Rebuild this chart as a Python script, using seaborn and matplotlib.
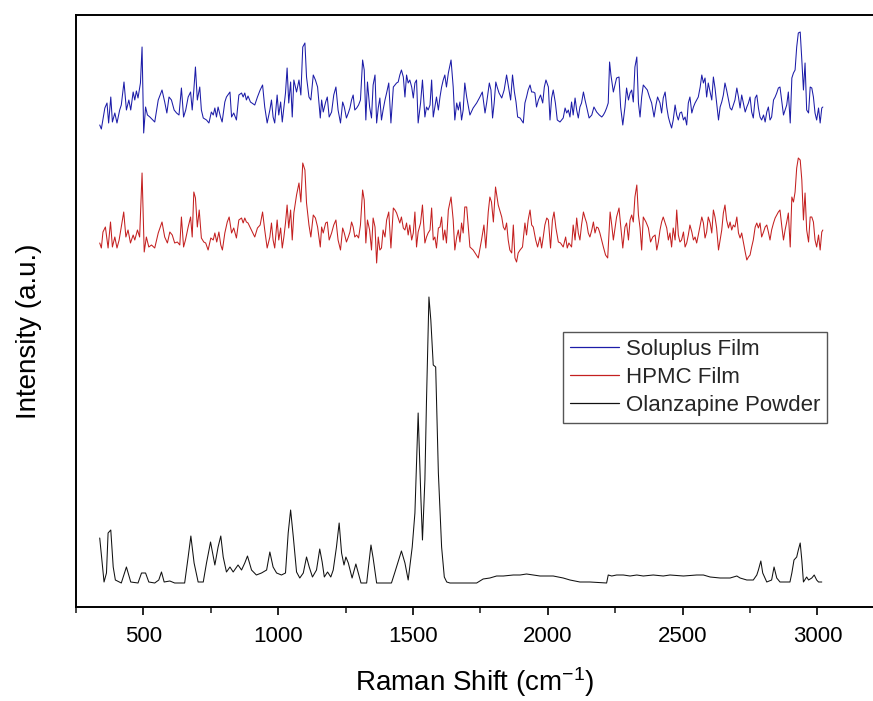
import matplotlib
matplotlib.use("Agg")
import matplotlib.pyplot as plt
import seaborn as sns
import pandas as pd
from matplotlib.ticker import MultipleLocator, NullLocator
from matplotlib.lines import Line2D

# ---------------- data ----------------
soluplus_x = [338, 344, 357, 365, 371, 379, 385, 394, 402, 412, 418, 428, 437, 446, 453, 462, 468, 474, 480, 489,
              495, 501, 508, 515, 524, 542, 555, 569, 579, 587, 595, 604, 614, 623, 632, 641, 649, 657, 666, 675,
              681, 687, 693, 700, 709, 715, 722, 734, 743, 752, 759, 765, 771, 777, 786, 792, 802, 808, 821, 827,
              835, 845, 854, 864, 870, 876, 882, 888, 897, 913, 923, 933, 942, 950, 959, 969, 975, 981, 987, 996,
              1002, 1009, 1015, 1021, 1027, 1033, 1039, 1046, 1052, 1058, 1068, 1077, 1084, 1091, 1099, 1105, 1114,
              1121, 1130, 1138, 1146, 1156, 1161, 1167, 1176, 1182, 1189, 1198, 1206, 1214, 1222, 1231, 1239, 1245,
              1253, 1260, 1266, 1272, 1278, 1284, 1291, 1298, 1305, 1313, 1319, 1325, 1331, 1339, 1346, 1352, 1359,
              1365, 1371, 1377, 1383, 1389, 1396, 1402, 1410, 1418, 1427, 1433, 1439, 1445, 1451, 1457, 1464, 1470,
              1476, 1482, 1488, 1495, 1501, 1507, 1513, 1519, 1528, 1535, 1544, 1550, 1556, 1563, 1569, 1575, 1581,
              1587, 1594, 1600, 1606, 1612, 1618, 1624, 1631, 1641, 1649, 1655, 1662, 1668, 1674, 1680, 1686, 1692,
              1699, 1711,
              1723, 1736, 1748, 1757, 1767, 1773, 1783, 1789, 1795, 1801, 1807, 1812, 1819, 1829, 1838, 1847, 1853,
              1862, 1869, 1876, 1882, 1888, 1897, 1909, 1915, 1921, 1927, 1934, 1940, 1946, 1952, 1958, 1965, 1973,
              1981, 1987, 1993, 2002, 2008, 2014, 2020, 2028, 2035, 2045, 2057, 2064, 2070, 2076, 2082, 2088, 2094,
              2101, 2107, 2113, 2119, 2125, 2132, 2138, 2144, 2153, 2163, 2171, 2181, 2191, 2200, 2206, 2212, 2218,
              2224, 2229, 2234, 2243, 2249, 2255, 2264, 2270, 2278, 2286, 2292, 2299, 2305, 2311, 2317, 2323, 2330,
              2336, 2342, 2348, 2354, 2360, 2369, 2377, 2385, 2394, 2401, 2407, 2416, 2422, 2428, 2435, 2441, 2447,
              2453, 2459, 2465, 2472, 2478, 2484, 2490, 2496, 2503, 2509, 2515, 2521, 2527, 2534, 2540, 2546, 2552,
              2558, 2565, 2571, 2577, 2583, 2589, 2595, 2602, 2608, 2614, 2620, 2626, 2633, 2639, 2645, 2651, 2657,
              2663, 2670, 2676, 2682, 2688, 2694, 2701, 2707, 2713, 2719, 2725, 2732, 2738, 2744, 2750, 2756, 2762,
              2769, 2775, 2781, 2787, 2793, 2800, 2806, 2812, 2818, 2824, 2830, 2837, 2843, 2849, 2855, 2861, 2868,
              2874, 2880, 2886, 2892, 2899, 2905, 2911, 2917, 2923, 2929, 2936, 2942, 2948, 2954, 2960, 2967, 2973,
              2979, 2985, 2991, 2997, 3004, 3010, 3016, 3020]
soluplus_y = [482, 478, 499, 504, 484, 510, 485, 494, 484, 497, 502, 525, 497, 507, 497, 515, 507, 516, 509, 524,
              560, 474, 500, 492, 490, 485, 507, 517, 505, 494, 510, 507, 497, 494, 492, 519, 490, 497, 510, 515,
              497, 517, 540, 507, 520, 497, 489, 487, 484, 495, 492, 499, 490, 500, 490, 485, 505, 510, 515, 490,
              494, 487, 512, 514, 510, 514, 507, 511, 505, 502, 510, 517, 522, 500, 484, 497, 507, 490, 484, 512,
              492, 505, 485, 500, 514, 539, 504, 525, 490, 527, 515, 527, 512, 560, 564, 530, 510,
              507, 532, 527, 520, 489, 507, 495, 505, 510, 490, 495, 512, 520, 497, 484, 505, 500,
              489, 494, 499, 507, 512, 497, 499, 502, 507, 547, 537, 487, 525, 500, 489, 522, 532,
              484, 499, 509, 487, 497, 507, 514, 524, 484, 520, 522, 524, 525, 532, 537, 530, 510,
              532, 524, 527, 520, 509, 524, 527, 484, 504, 527, 490, 500, 497, 502, 527, 490, 500,
              510, 497, 510, 520, 527, 532, 520, 534, 547, 520, 487, 504, 497, 505, 487, 497, 524,
              510, 492,
              499, 504, 510, 515, 494, 504, 524, 517, 489, 504, 525, 520, 514, 509, 517, 532, 522,
              507, 532, 515, 505, 490, 489, 484, 504, 510, 517, 522, 515, 515, 514, 500, 507, 512,
              504, 520, 527, 520, 487, 509, 517, 504, 487, 485, 489, 499, 494, 497, 490, 505, 492,
              509, 497, 489, 500, 504, 515, 507, 500, 489, 492, 500, 495, 492, 490, 492, 495, 499,
              504, 545, 532, 515, 522, 529, 530, 500, 482, 500, 519, 507, 514, 517, 505, 540, 550,
              504, 490, 510, 522, 520, 517, 510, 504, 490, 502, 510, 504, 494, 509, 515, 500, 490,
              484, 479, 487, 502, 492, 487, 494, 495, 487, 490, 482, 504, 510, 494, 500, 504, 507,
              510, 520, 532, 524, 529, 510, 524, 515, 507, 530, 519, 504, 487, 500, 505, 512, 524,
              517, 507, 499, 497, 502, 507, 519, 510, 499, 512, 504, 495, 500, 504, 510, 495, 489,
              509, 512, 499, 490, 487, 492, 485, 495, 500, 487, 490, 507, 510, 514, 519, 520, 505,
              492, 497, 502, 515, 484, 529, 534, 537, 560, 574, 575, 547, 517, 544, 497, 494, 520,
              519, 510, 494, 487, 499, 484, 499, 500]

hpmc_x = [338, 344, 350, 359, 369, 378, 385, 394, 402, 410, 418, 427, 435, 443, 452, 462, 468, 478, 486, 495,
          503, 511, 520, 530, 542, 555, 569, 579, 589, 598, 607, 616, 626, 635, 641, 649, 656, 666, 675, 681,
          687, 693, 700, 707, 715, 724, 731, 740, 750, 759, 765, 772, 780, 787, 793, 802, 811, 818, 827, 835,
          845, 854, 864, 870, 876, 882, 888, 897, 913, 923, 933, 942, 950, 959, 969, 975, 981, 987, 996, 1002,
          1009, 1015, 1021, 1027, 1033, 1039, 1046, 1052, 1058, 1068, 1077, 1084, 1091, 1099, 1105, 1114, 1121,
          1130, 1138, 1146, 1156, 1161, 1167, 1176, 1182, 1189, 1198, 1206, 1214, 1222, 1231, 1239, 1245, 1253,
          1260, 1266, 1272, 1278, 1284, 1291, 1298, 1305, 1313, 1319, 1325, 1331, 1339, 1346, 1352, 1359, 1365,
          1371, 1377, 1383, 1389, 1396, 1402, 1410, 1418, 1427, 1433, 1439, 1445, 1451, 1457, 1464, 1470, 1476,
          1482, 1488, 1495, 1501, 1507, 1513, 1519, 1528, 1535, 1544, 1550, 1556, 1563, 1569, 1575, 1581, 1587,
          1594, 1600, 1606, 1612, 1618, 1624, 1631, 1641, 1649, 1655, 1662, 1668, 1674, 1680, 1686, 1692, 1699,
          1711,
          1723, 1742, 1754, 1763, 1770, 1779, 1785, 1791, 1798, 1806, 1816, 1829, 1835, 1841, 1847, 1853, 1859,
          1866, 1872, 1878, 1884, 1890, 1897, 1906, 1915, 1921, 1927, 1934, 1940, 1946, 1955, 1962, 1971, 1977,
          1983, 1989, 1996, 2002, 2010, 2017, 2023, 2030, 2039, 2047, 2057, 2066, 2072, 2078, 2088, 2094, 2101,
          2107, 2113, 2119, 2125, 2132, 2138, 2144, 2150, 2156, 2163, 2169, 2175, 2181, 2187, 2193, 2206, 2214,
          2222, 2231, 2237, 2243, 2255, 2264, 2270, 2278, 2286, 2292, 2299, 2305, 2311, 2317, 2323, 2330, 2336,
          2342, 2348, 2354, 2364, 2373, 2381, 2389, 2398, 2404, 2410, 2416, 2422, 2428, 2435, 2441, 2447, 2453,
          2459, 2465, 2472, 2478, 2484, 2490, 2496, 2503, 2509, 2515, 2521, 2527, 2534, 2540, 2546, 2552, 2558,
          2565, 2571, 2577, 2583, 2589, 2595, 2602, 2608, 2614, 2620, 2626, 2633, 2639, 2645, 2651, 2657, 2663,
          2670, 2676, 2682, 2688, 2694, 2701, 2707, 2713, 2719, 2725, 2732, 2738, 2744, 2750, 2756, 2762, 2769,
          2775, 2781, 2787, 2793, 2800, 2806, 2812, 2818, 2824, 2830, 2837, 2843, 2849, 2855, 2861, 2868, 2874,
          2880, 2886, 2892, 2899, 2905, 2911, 2917, 2923, 2929, 2936, 2942, 2948, 2954, 2960, 2967, 2973, 2979,
          2985, 2991, 2997, 3004, 3010, 3016, 3020]
hpmc_y = [364, 359, 375, 380, 359, 385, 360, 370, 359, 367, 380, 395, 370, 377, 364, 372, 367, 377, 370, 434,
          355, 370, 360, 362, 359, 374, 385, 370, 364, 375, 372, 364, 365, 362, 390, 360, 367, 380, 390, 370,
          415, 409, 380, 397, 369, 365, 364, 357, 369, 367, 374, 365, 375, 362, 357, 374, 385, 390, 374, 379,
          369, 387, 389, 384, 389, 385, 384, 379, 370, 379, 382, 395, 377, 359, 370, 384, 367, 359, 387, 367,
          379, 359, 370, 384, 402, 379, 397, 367, 394, 412, 424, 405, 444, 437, 404, 382, 370,
          392, 389, 380, 360, 380, 374, 384, 385, 367, 374, 382, 387, 367, 357, 379, 374, 365,
          370, 375, 385, 380, 370, 372, 369, 382, 417, 407, 364, 387, 377, 357, 389, 380, 344,
          370, 357, 359, 377, 370, 387, 395, 359, 399, 397, 394, 389, 384, 390, 379, 377, 384,
          372, 382, 367, 374, 395, 360, 375, 384, 402, 364, 370, 374, 377, 399, 367, 370, 359,
          379, 380, 390, 367, 377, 364, 397, 410, 387, 357, 370, 377, 365, 384, 374, 400, 400,
          360,
          357, 349, 367, 382, 359, 395, 410, 405, 385, 420, 402, 390, 380, 377, 384, 367, 357,
          354, 382, 349, 345, 354, 357, 360, 384, 372, 387, 397, 382, 380, 367, 360, 370, 359,
          370, 382, 389, 387, 359, 387, 395, 379, 365, 364, 360, 370, 359, 364, 360, 382, 367,
          389, 374, 367, 382, 395, 389, 384, 374, 370, 377, 385, 374, 380, 379, 374, 360, 352,
          349, 395, 382, 367, 390, 399, 382, 359, 380, 384, 367, 387, 392, 385, 410, 422, 392,
          379, 357, 390, 385, 379, 365, 370, 372, 357, 365, 377, 385, 390, 384, 379, 367, 374,
          360, 379, 367, 397, 372, 365, 367, 375, 360, 364, 372, 382, 375, 367, 370, 364, 372,
          382, 390, 384, 369, 375, 390, 384, 374, 397, 390, 379, 357, 367, 377, 394, 402, 387,
          379, 385, 377, 382, 380, 390, 374, 369, 374, 365, 355, 347, 350, 352, 360, 367, 380,
          384, 379, 384, 370, 375, 380, 382, 375, 367, 377, 384, 389, 392, 395, 397, 380, 367,
          377, 385, 394, 360, 410, 405, 415, 439, 449, 447, 427, 387, 414, 377, 365, 390, 390,
          385, 367, 360, 372, 357, 375, 377]

olanzapine_x = [338, 354, 363, 369, 379, 388, 396, 418, 437, 453, 480, 493, 508, 520, 542, 557, 567, 577, 598, 616,
                653, 666, 676, 688, 703, 722, 734, 749, 765, 777, 787, 796, 808, 821, 833, 851, 864, 876, 886, 901,
                919, 938, 957, 969, 981, 994, 1012, 1027, 1037, 1046, 1056, 1068, 1080, 1093, 1105, 1115, 1127, 1142,
                1154, 1163, 1171, 1183, 1195, 1204, 1216, 1226, 1235, 1244, 1251, 1260, 1274, 1288, 1297, 1307, 1328,
                1344, 1352, 1365, 1420, 1433, 1457, 1470, 1482, 1497, 1507, 1519, 1529, 1535, 1544, 1550, 1559, 1566,
                1575, 1584, 1594, 1606, 1616, 1625, 1637, 1668, 1711, 1736, 1760, 1785, 1810, 1835, 1872, 1897, 1921,
                1946, 1971, 2020, 2057, 2082, 2119, 2156, 2218, 2224, 2237, 2255, 2280, 2305, 2330, 2354, 2391, 2428,
                2453, 2503, 2552, 2577, 2602, 2639, 2676, 2701, 2713, 2738, 2762, 2775, 2781, 2790, 2797, 2812, 2830,
                2839, 2849, 2861, 2898, 2905, 2913, 2923, 2929, 2936, 2942, 2948, 2960, 2967, 2979, 2988, 2997, 3004,
                3016]
olanzapine_y = [69, 25, 34, 74, 77, 40, 27, 24, 40, 25, 24, 34, 34, 25, 24, 27, 35, 25, 26, 24,
                24, 50, 71, 44, 25, 25, 44, 65, 42, 60, 71, 50, 35, 40, 35, 42, 37, 44, 51, 37,
                32, 34, 37, 55, 40, 34, 32, 34, 74, 97, 70, 35, 29, 34, 50, 40, 30, 37,
                58, 45, 30, 35, 30, 37, 60, 84, 54, 42, 50, 44, 29, 43, 34, 24, 24,
                62, 49, 24, 24, 35, 56, 44, 27, 60, 94, 194, 110, 67, 127, 207, 310, 287,
                242, 240, 134, 60, 30, 25, 24, 24, 24, 24, 28, 29, 31, 31, 32, 32, 33,
                32, 31, 31, 29, 27, 25, 25, 24, 32, 31, 32, 32, 31, 32, 31, 32, 31,
                32, 31, 32, 32, 30, 29, 29, 31, 29, 27, 27, 32, 37, 46, 34, 25, 27,
                40, 29, 25, 25, 34, 47, 50, 57, 64, 47, 25, 30, 27, 29, 32, 27, 25,
                25]

series_names = ["Soluplus Film", "HPMC Film", "Olanzapine Powder"]
series_colors = ["#1c1ca8", "#c42020", "#111111"]
x_ticks = [500, 1000, 1500, 2000, 2500, 3000]

frames = []
for name, xs, ys in [(series_names[0], soluplus_x, soluplus_y),
                     (series_names[1], hpmc_x, hpmc_y),
                     (series_names[2], olanzapine_x, olanzapine_y)]:
    frames.append(pd.DataFrame({"shift": xs, "intensity": ys, "sample": name}))
df = pd.concat(frames, ignore_index=True)

# ---------------- figure ----------------
sns.set_theme(style="white")
plt.rcParams["font.family"] = ["Liberation Sans", "DejaVu Sans"]
plt.rcParams["mathtext.fontset"] = "custom"
plt.rcParams["mathtext.rm"] = "Liberation Sans"
plt.rcParams["mathtext.it"] = "Liberation Sans:italic"
plt.rcParams["mathtext.default"] = "regular"

fig = plt.figure(figsize=(8.73, 7.01), dpi=100)
ax = fig.add_axes([76 / 873, 1 - 607 / 701, 1 - 76 / 873, (607 - 15) / 701])

sns.lineplot(data=df, x="shift", y="intensity", hue="sample", hue_order=series_names,
             palette=dict(zip(series_names, series_colors)), estimator=None, sort=False,
             linewidth=0.75, ax=ax, legend=False)

ax.set_xlim(250, 3206)
ax.set_ylim(0, 592)
ax.set_xticks(x_ticks)
ax.set_xticklabels([str(t) for t in x_ticks])
ax.xaxis.set_minor_locator(MultipleLocator(250))
ax.yaxis.set_major_locator(NullLocator())
ax.tick_params(axis="x", which="major", direction="out", length=6, width=1.2, pad=8,
               labelsize=16, colors="black", bottom=True)
ax.tick_params(axis="x", which="minor", direction="out", length=4, width=1.2, bottom=True)

for side in ["left", "top", "bottom"]:
    ax.spines[side].set_visible(True)
    ax.spines[side].set_color("black")
    ax.spines[side].set_linewidth(1.4)
ax.spines["right"].set_visible(False)

ax.set_xlabel("Raman Shift (cm$^{-1}$)", fontsize=20, labelpad=13, color="black")
ax.set_ylabel("Intensity (a.u.)", fontsize=20, color="black")
ax.yaxis.set_label_coords(-0.043, 0.465)

handles = [Line2D([], [], color=c, linewidth=0.9) for c in series_colors]
leg = ax.legend(handles, series_names, loc="upper left",
                bbox_to_anchor=(563 / 873, 1 - 332 / 701), bbox_transform=fig.transFigure,
                fontsize=16, frameon=True, fancybox=False, framealpha=1,
                edgecolor="#555555", handlelength=2.2, handletextpad=0.35,
                borderpad=0.3, labelspacing=0.32, borderaxespad=0)
leg.get_frame().set_linewidth(1.0)

fig.savefig("out.png", dpi=100)
